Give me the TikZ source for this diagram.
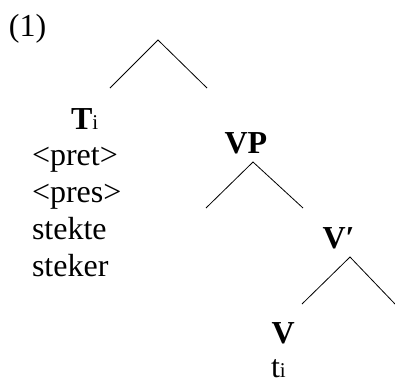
\documentclass[tikz,border=0pt]{standalone}
\usepackage{fontspec}
\setmainfont{Liberation Serif}
\begin{document}
\begin{tikzpicture}[x=1pt,y=-1pt,
  every node/.style={inner sep=0pt, outer sep=0pt},
  lbl/.style={font=\fontsize{32}{37}\selectfont, anchor=base west},
  cat/.style={font=\fontsize{32}{37}\selectfont\bfseries, anchor=base west},
  sub/.style={font=\fontsize{21}{21}\selectfont, anchor=base west},
  branch/.style={line width=0.8pt}]
\useasboundingbox (0,0) rectangle (395,383);
\node[lbl] (ex) at (9,36) {(1)};
% top
\coordinate (top) at (158,40);
\coordinate (topL) at (110,88);
\coordinate (topR) at (207,88);
\draw[branch] (topL) -- (top) -- (topR);
% T
\node[cat] (T) at (71,129) {T};
\node[sub] (Ti) at (T.base east) {i};
\node[lbl] (pret) at (32,165.5) {<pret>};
\node[lbl] (pres) at (32,202.3) {<pres>};
\node[lbl] (stekte) at (32,239) {stekte};
\node[lbl] (steker) at (32,276) {steker};
% VP
\node[cat] (VP) at (224.5,153) {VP};
\coordinate (vpA) at (253,162);
\coordinate (vpL) at (206,208);
\coordinate (vpR) at (303,208);
\draw[branch] (vpL) -- (vpA) -- (vpR);
% V'
\node[cat] (Vbar) at (322.5,248) {V′};
\coordinate (vbA) at (350,257);
\coordinate (vbL) at (302,304);
\coordinate (vbR) at (395,304);
\draw[branch] (vbL) -- (vbA) -- (vbR);
% V
\node[cat] (V) at (271.5,343) {V};
\node[lbl] (t) at (271,377) {t};
\node[sub] (ti) at (t.base east) {i};
\end{tikzpicture}
\end{document}
